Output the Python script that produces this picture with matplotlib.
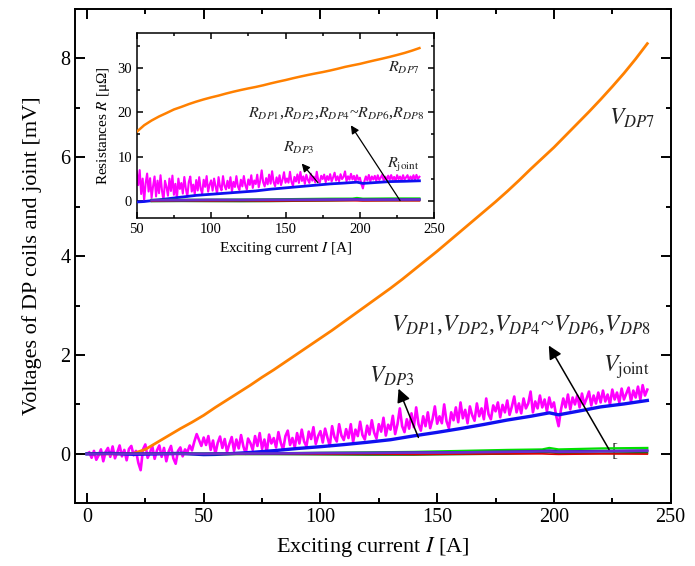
import matplotlib
matplotlib.use("Agg")
import numpy as np
import matplotlib.pyplot as plt
from matplotlib.ticker import MultipleLocator

plt.rcParams['font.family'] = ['Liberation Serif', 'DejaVu Serif']
plt.rcParams['mathtext.fontset'] = 'stix'

# ---- data: exciting current [A] and measured voltages [mV] ----
current_dp7 = [0, 5, 10, 15, 20, 25, 30, 35, 40, 45, 50, 55, 60, 65, 70, 75, 80, 85,
               90, 95, 100, 105, 110, 115, 120, 125, 130, 135, 140, 145, 150, 155,
               160, 165, 170, 175, 180, 185, 190, 195, 200, 205, 210, 215, 220, 225,
               230, 235, 240]
v_dp7 = [0.0, 0.0, 0.0, 0.0, 0.01, 0.09, 0.23, 0.37, 0.51, 0.64, 0.78, 0.94, 1.09,
         1.24, 1.39, 1.55, 1.70, 1.86, 2.02, 2.18, 2.34, 2.50, 2.67, 2.84, 3.01, 3.18,
         3.35, 3.53, 3.72, 3.91, 4.10, 4.30, 4.50, 4.70, 4.90, 5.10, 5.31, 5.53, 5.76,
         5.98, 6.20, 6.44, 6.68, 6.92, 7.17, 7.43, 7.70, 7.99, 8.30]

current_joint = list(range(1, 241))
v_joint = [
    0.03, -0.08, 0.06, -0.12, -0.03, 0.09, -0.15, 0.04, 0.12, -0.06,
    0.15, -0.09, 0.03, 0.17, -0.05, 0.08, -0.13, 0.10, 0.16, -0.03,
    0.06, -0.18, -0.33, 0.09, 0.19, -0.08, 0.03, 0.15, -0.10, 0.07,
    0.17, -0.06, 0.12, -0.15, 0.05, 0.16, -0.09, -0.20, 0.06, 0.13,
    -0.05, 0.09, 0.03, 0.17, 0.07, 0.25, 0.40, 0.28, 0.16, 0.33,
    0.18, 0.36, 0.08, 0.27, 0.00, 0.22, 0.35, 0.12, 0.30, 0.04,
    0.20, 0.34, 0.06, 0.29, 0.11, 0.38, 0.15, 0.00, 0.31, 0.22,
    0.08, 0.36, 0.16, 0.42, 0.10, 0.29, 0.03, 0.39, 0.21, 0.32,
    0.13, 0.44, 0.23, 0.08, 0.36, 0.47, 0.18, 0.32, 0.13, 0.42,
    0.21, 0.49, 0.25, 0.15, 0.45, 0.30, 0.54, 0.20, 0.36, 0.46,
    0.23, 0.51, 0.33, 0.16, 0.56, 0.34, 0.25, 0.60, 0.37, 0.28,
    0.50, 0.32, 0.60, 0.24, 0.49, 0.36, 0.65, 0.38, 0.29, 0.57,
    0.39, 0.68, 0.43, 0.31, 0.60, 0.45, 0.73, 0.37, 0.59, 0.49,
    0.77, 0.40, 0.60, 0.92, 0.56, 0.44, 0.70, 0.51, 0.82, 0.54,
    0.94, 0.60, 0.47, 0.76, 0.56, 0.84, 0.52, 0.70, 0.96, 0.61,
    0.76, 0.62, 1.00, 0.66, 0.52, 0.84, 0.68, 0.94, 0.64, 1.04,
    0.72, 0.89, 0.62, 0.96, 0.78, 0.67, 1.02, 0.76, 0.92, 0.70,
    1.12, 0.80, 0.70, 0.98, 0.86, 1.04, 0.74, 0.99, 0.84, 1.08,
    0.79, 0.96, 1.16, 0.84, 1.02, 0.82, 1.12, 0.92, 1.02, 1.26,
    0.84, 1.06, 0.92, 1.18, 0.94, 1.10, 0.86, 1.14, 0.94, 1.04,
    0.76, 0.56, 0.89, 1.12, 0.94, 1.20, 0.90, 1.14, 1.00, 1.18,
    0.94, 1.22, 1.00, 1.12, 1.26, 0.98, 1.18, 1.02, 1.24, 1.04,
    1.28, 1.06, 1.20, 1.00, 1.30, 1.10, 1.24, 1.04, 1.32, 1.10,
    1.22, 1.34, 1.06, 1.28, 1.14, 1.36, 1.10, 1.39, 1.18, 1.30,
]

current_dp3 = [0, 10, 20, 30, 40, 50, 55, 60, 70, 80, 90, 100, 110, 120, 130, 140,
               150, 160, 170, 180, 190, 198, 202, 210, 220, 230, 240]
v_dp3 = [0.0, 0.01, -0.01, 0.0, 0.01, -0.015, -0.011, 0.0, 0.028, 0.064, 0.108,
         0.145, 0.187, 0.234, 0.286, 0.364, 0.435, 0.512, 0.595, 0.684, 0.76, 0.83,
         0.79, 0.86, 0.95, 1.01, 1.08]

current_low = [0, 20, 40, 60, 80, 100, 120, 140, 160, 180, 195, 198, 202, 220, 240]
v_dp1 = [0.0, 0.0, 0.0, -0.005, 0.0, -0.005, 0.0, -0.01, -0.005, 0.0, 0.0, -0.005,
         -0.01, 0.0, -0.005]
v_dp2 = [0.0, 0.0, 0.005, 0.01, 0.015, 0.02, 0.03, 0.04, 0.06, 0.08, 0.09, 0.12,
         0.09, 0.11, 0.12]
v_dp4 = [0.0, 0.0, -0.005, -0.01, -0.01, -0.015, -0.02, -0.02, -0.01, 0.0, 0.02,
         0.03, 0.01, 0.01, 0.02]
v_dp5 = [0.0, 0.005, 0.0, 0.01, 0.01, 0.02, 0.02, 0.03, 0.035, 0.045, 0.06, 0.07,
         0.05, 0.06, 0.07]
v_dp6 = [0.0, 0.0, 0.0, 0.005, 0.01, 0.015, 0.02, 0.025, 0.03, 0.04, 0.05, 0.05,
         0.04, 0.05, 0.06]

ORANGE = '#ff8000'
MAGENTA = '#ff00ff'
BLUE = '#1010f0'
GREEN = '#00e000'
DKGREEN = '#107010'
RED = '#e00000'
PURPLE = '#6a2ccf'
NAVY = '#2020a0'

low_series = [
    (v_dp2, GREEN, 1.6),
    (v_dp4, DKGREEN, 1.4),
    (v_dp1, RED, 1.2),
    (v_dp5, NAVY, 1.6),
    (v_dp6, PURPLE, 1.8),
]


def resistance(cur, volt, i_min=50.0):
    """R = V / I in micro-ohm, for currents of at least i_min."""
    cur = np.asarray(cur, float)
    volt = np.asarray(volt, float)
    keep = cur >= i_min
    return cur[keep], volt[keep] / cur[keep] * 1000.0


def style_axes(ax, size, lw, length):
    ax.tick_params(which='both', direction='in', top=True, right=True,
                   width=lw, labelsize=size)
    ax.tick_params(which='major', length=length)
    ax.tick_params(which='minor', length=length * 0.55)
    for s in ax.spines.values():
        s.set_linewidth(lw)


fig = plt.figure(figsize=(6.95, 5.66), dpi=100)
ax = fig.add_axes([0.1083, 0.1108, 0.8567, 0.8733])

ax.plot(current_joint, v_joint, color=MAGENTA, lw=1.9, zorder=2)
ax.plot(current_dp7, v_dp7, color=ORANGE, lw=2.0, zorder=3)
ax.plot(current_dp3, v_dp3, color=BLUE, lw=2.4, zorder=4)
for vals, col, lw in low_series:
    ax.plot(current_low, vals, color=col, lw=lw, zorder=5)

ax.set_xlim(-5, 250)
ax.set_ylim(-1, 9)
ax.xaxis.set_major_locator(MultipleLocator(50))
ax.xaxis.set_minor_locator(MultipleLocator(25))
ax.yaxis.set_major_locator(MultipleLocator(2))
ax.yaxis.set_minor_locator(MultipleLocator(1))
style_axes(ax, 14.5, 1.4, 7)
ax.set_xlabel('Exciting current $I$ [A]', fontsize=16, labelpad=6)
ax.set_ylabel('Voltages of DP coils and joint [mV]', fontsize=16, labelpad=13)

tc = '#222222'
ax.text(233.6, 6.79, r'$V_{DP7}$', fontsize=17, ha='center', va='center', color=tc)
ax.text(185.7, 2.6, r'$V_{DP1}$,$V_{DP2}$,$V_{DP4}$~$V_{DP6}$,$V_{DP8}$',
        fontsize=17, ha='center', va='center', color=tc)
ax.text(130.4, 1.56, r'$V_{DP3}$', fontsize=17, ha='center', va='center', color=tc)
ax.text(231, 1.76, r'$V_{\mathrm{joint}}$', fontsize=17, ha='center', va='center',
        color=tc)
ax.text(225.8, 0.04, '[', fontsize=13, ha='center', va='center', color='#333333')

arrow = dict(arrowstyle='-|>', color='black', lw=1.1, mutation_scale=20)
ax.annotate('', xy=(197.2, 2.24), xytext=(224.2, 0.04), arrowprops=arrow, zorder=6)
ax.annotate('', xy=(133.0, 1.37), xytext=(142.4, 0.28), arrowprops=arrow, zorder=6)

# ---- inset: resistance R = V / I ----
ins = fig.add_axes([0.1967, 0.6143, 0.4282, 0.3274])
ins.plot(*resistance(current_joint, v_joint), color=MAGENTA, lw=1.5, zorder=2)
ins.plot(*resistance(current_dp7, v_dp7), color=ORANGE, lw=1.8, zorder=3)
ins.plot(*resistance(current_dp3, v_dp3), color=BLUE, lw=2.0, zorder=4)
for vals, col, lw in low_series:
    ins.plot(*resistance(current_low, vals), color=col, lw=lw, zorder=5)

ins.set_xlim(50, 250)
ins.set_ylim(-4, 38)
ins.xaxis.set_major_locator(MultipleLocator(50))
ins.xaxis.set_minor_locator(MultipleLocator(25))
ins.yaxis.set_major_locator(MultipleLocator(10))
ins.yaxis.set_minor_locator(MultipleLocator(5))
style_axes(ins, 10.5, 1.1, 4)
ins.set_xlabel('Exciting current $I$ [A]', fontsize=11, labelpad=3)
ins.set_ylabel('Resistances $R$ [μΩ]', fontsize=11, labelpad=4)

ins.text(229.6, 30.1, r'$R_{DP7}$', fontsize=11.5, ha='center', va='center', color=tc)
ins.text(184, 19.9, r'$R_{DP1}$,$R_{DP2}$,$R_{DP4}$~$R_{DP6}$,$R_{DP8}$',
         fontsize=11.5, ha='center', va='center', color=tc)
ins.text(159, 12, r'$R_{DP3}$', fontsize=11.5, ha='center', va='center', color=tc)
ins.text(229, 8.1, r'$R_{\mathrm{joint}}$', fontsize=11.5, ha='center', va='center',
         color=tc)

arrow_s = dict(arrowstyle='-|>', color='black', lw=0.9, mutation_scale=12)
ins.annotate('', xy=(192.9, 17.6), xytext=(228, -0.5), arrowprops=arrow_s, zorder=6)
ins.annotate('', xy=(159.7, 8.9), xytext=(173, 3.6), arrowprops=arrow_s, zorder=6)

fig.savefig('out.png', dpi=100)
